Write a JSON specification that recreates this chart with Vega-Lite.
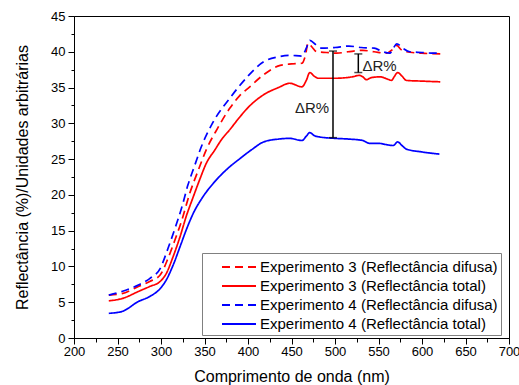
{
  "$schema": "https://vega.github.io/schema/vega-lite/v6.json",
  "width": 435,
  "height": 322,
  "autosize": {"type": "none"},
  "padding": {"left": 74, "top": 16, "right": 10, "bottom": 47},
  "config": {
    "font": "Liberation Sans",
    "view": {"stroke": "black", "strokeWidth": 1},
    "axis": {
      "grid": false,
      "domainColor": "black",
      "tickColor": "black",
      "labelColor": "black",
      "titleColor": "black",
      "labelFontSize": 13,
      "titleFontSize": 16,
      "titleFontWeight": "normal",
      "labelFont": "Liberation Sans",
      "titleFont": "Liberation Sans"
    }
  },
  "datasets": {
    "curves": [
      {"serie": "Experimento 3 (Reflectância difusa)", "nm": 240, "r": 6.0},
      {"serie": "Experimento 3 (Reflectância difusa)", "nm": 255, "r": 6.2},
      {"serie": "Experimento 3 (Reflectância difusa)", "nm": 274, "r": 7.2},
      {"serie": "Experimento 3 (Reflectância difusa)", "nm": 287, "r": 7.9},
      {"serie": "Experimento 3 (Reflectância difusa)", "nm": 299, "r": 8.8},
      {"serie": "Experimento 3 (Reflectância difusa)", "nm": 308, "r": 11.1},
      {"serie": "Experimento 3 (Reflectância difusa)", "nm": 316, "r": 13.7},
      {"serie": "Experimento 3 (Reflectância difusa)", "nm": 324, "r": 16.5},
      {"serie": "Experimento 3 (Reflectância difusa)", "nm": 333, "r": 20.2},
      {"serie": "Experimento 3 (Reflectância difusa)", "nm": 343, "r": 23.5},
      {"serie": "Experimento 3 (Reflectância difusa)", "nm": 352, "r": 26.3},
      {"serie": "Experimento 3 (Reflectância difusa)", "nm": 365, "r": 29.3},
      {"serie": "Experimento 3 (Reflectância difusa)", "nm": 379, "r": 32.1},
      {"serie": "Experimento 3 (Reflectância difusa)", "nm": 390, "r": 33.8},
      {"serie": "Experimento 3 (Reflectância difusa)", "nm": 402, "r": 35.1},
      {"serie": "Experimento 3 (Reflectância difusa)", "nm": 418, "r": 36.8},
      {"serie": "Experimento 3 (Reflectância difusa)", "nm": 437, "r": 38.1},
      {"serie": "Experimento 3 (Reflectância difusa)", "nm": 450, "r": 38.3},
      {"serie": "Experimento 3 (Reflectância difusa)", "nm": 462, "r": 38.4},
      {"serie": "Experimento 3 (Reflectância difusa)", "nm": 466, "r": 39.5},
      {"serie": "Experimento 3 (Reflectância difusa)", "nm": 469, "r": 41.2},
      {"serie": "Experimento 3 (Reflectância difusa)", "nm": 474, "r": 40.6},
      {"serie": "Experimento 3 (Reflectância difusa)", "nm": 479, "r": 40.0},
      {"serie": "Experimento 3 (Reflectância difusa)", "nm": 490, "r": 39.9},
      {"serie": "Experimento 3 (Reflectância difusa)", "nm": 502, "r": 39.8},
      {"serie": "Experimento 3 (Reflectância difusa)", "nm": 515, "r": 40.0},
      {"serie": "Experimento 3 (Reflectância difusa)", "nm": 532, "r": 40.2},
      {"serie": "Experimento 3 (Reflectância difusa)", "nm": 545, "r": 40.0},
      {"serie": "Experimento 3 (Reflectância difusa)", "nm": 559, "r": 39.8},
      {"serie": "Experimento 3 (Reflectância difusa)", "nm": 566, "r": 40.3},
      {"serie": "Experimento 3 (Reflectância difusa)", "nm": 571, "r": 40.9},
      {"serie": "Experimento 3 (Reflectância difusa)", "nm": 576, "r": 40.3},
      {"serie": "Experimento 3 (Reflectância difusa)", "nm": 582, "r": 40.0},
      {"serie": "Experimento 3 (Reflectância difusa)", "nm": 600, "r": 39.8},
      {"serie": "Experimento 3 (Reflectância difusa)", "nm": 621, "r": 39.7},

      {"serie": "Experimento 3 (Reflectância total)", "nm": 240, "r": 5.2},
      {"serie": "Experimento 3 (Reflectância total)", "nm": 255, "r": 5.5},
      {"serie": "Experimento 3 (Reflectância total)", "nm": 274, "r": 6.5},
      {"serie": "Experimento 3 (Reflectância total)", "nm": 287, "r": 7.2},
      {"serie": "Experimento 3 (Reflectância total)", "nm": 299, "r": 7.9},
      {"serie": "Experimento 3 (Reflectância total)", "nm": 306, "r": 9.0},
      {"serie": "Experimento 3 (Reflectância total)", "nm": 314, "r": 11.4},
      {"serie": "Experimento 3 (Reflectância total)", "nm": 322, "r": 14.2},
      {"serie": "Experimento 3 (Reflectância total)", "nm": 329, "r": 17.0},
      {"serie": "Experimento 3 (Reflectância total)", "nm": 337, "r": 19.7},
      {"serie": "Experimento 3 (Reflectância total)", "nm": 345, "r": 22.3},
      {"serie": "Experimento 3 (Reflectância total)", "nm": 352, "r": 24.4},
      {"serie": "Experimento 3 (Reflectância total)", "nm": 362, "r": 26.3},
      {"serie": "Experimento 3 (Reflectância total)", "nm": 370, "r": 27.8},
      {"serie": "Experimento 3 (Reflectância total)", "nm": 379, "r": 29.1},
      {"serie": "Experimento 3 (Reflectância total)", "nm": 390, "r": 30.8},
      {"serie": "Experimento 3 (Reflectância total)", "nm": 400, "r": 32.2},
      {"serie": "Experimento 3 (Reflectância total)", "nm": 418, "r": 34.0},
      {"serie": "Experimento 3 (Reflectância total)", "nm": 435, "r": 35.0},
      {"serie": "Experimento 3 (Reflectância total)", "nm": 448, "r": 35.6},
      {"serie": "Experimento 3 (Reflectância total)", "nm": 462, "r": 35.1},
      {"serie": "Experimento 3 (Reflectância total)", "nm": 467, "r": 36.0},
      {"serie": "Experimento 3 (Reflectância total)", "nm": 471, "r": 37.1},
      {"serie": "Experimento 3 (Reflectância total)", "nm": 476, "r": 36.6},
      {"serie": "Experimento 3 (Reflectância total)", "nm": 481, "r": 36.3},
      {"serie": "Experimento 3 (Reflectância total)", "nm": 500, "r": 36.3},
      {"serie": "Experimento 3 (Reflectância total)", "nm": 520, "r": 36.5},
      {"serie": "Experimento 3 (Reflectância total)", "nm": 528, "r": 36.7},
      {"serie": "Experimento 3 (Reflectância total)", "nm": 532, "r": 36.5},
      {"serie": "Experimento 3 (Reflectância total)", "nm": 536, "r": 36.1},
      {"serie": "Experimento 3 (Reflectância total)", "nm": 542, "r": 36.4},
      {"serie": "Experimento 3 (Reflectância total)", "nm": 552, "r": 36.5},
      {"serie": "Experimento 3 (Reflectância total)", "nm": 560, "r": 36.2},
      {"serie": "Experimento 3 (Reflectância total)", "nm": 565, "r": 36.0},
      {"serie": "Experimento 3 (Reflectância total)", "nm": 568, "r": 36.5},
      {"serie": "Experimento 3 (Reflectância total)", "nm": 572, "r": 37.1},
      {"serie": "Experimento 3 (Reflectância total)", "nm": 577, "r": 36.6},
      {"serie": "Experimento 3 (Reflectância total)", "nm": 582, "r": 36.0},
      {"serie": "Experimento 3 (Reflectância total)", "nm": 600, "r": 35.9},
      {"serie": "Experimento 3 (Reflectância total)", "nm": 621, "r": 35.8},

      {"serie": "Experimento 4 (Reflectância difusa)", "nm": 240, "r": 6.0},
      {"serie": "Experimento 4 (Reflectância difusa)", "nm": 255, "r": 6.5},
      {"serie": "Experimento 4 (Reflectância difusa)", "nm": 274, "r": 7.4},
      {"serie": "Experimento 4 (Reflectância difusa)", "nm": 287, "r": 8.3},
      {"serie": "Experimento 4 (Reflectância difusa)", "nm": 299, "r": 9.7},
      {"serie": "Experimento 4 (Reflectância difusa)", "nm": 308, "r": 12.5},
      {"serie": "Experimento 4 (Reflectância difusa)", "nm": 316, "r": 15.3},
      {"serie": "Experimento 4 (Reflectância difusa)", "nm": 324, "r": 18.3},
      {"serie": "Experimento 4 (Reflectância difusa)", "nm": 331, "r": 21.4},
      {"serie": "Experimento 4 (Reflectância difusa)", "nm": 339, "r": 24.2},
      {"serie": "Experimento 4 (Reflectância difusa)", "nm": 345, "r": 26.3},
      {"serie": "Experimento 4 (Reflectância difusa)", "nm": 360, "r": 30.2},
      {"serie": "Experimento 4 (Reflectância difusa)", "nm": 379, "r": 33.5},
      {"serie": "Experimento 4 (Reflectância difusa)", "nm": 400, "r": 36.6},
      {"serie": "Experimento 4 (Reflectância difusa)", "nm": 418, "r": 38.6},
      {"serie": "Experimento 4 (Reflectância difusa)", "nm": 435, "r": 39.3},
      {"serie": "Experimento 4 (Reflectância difusa)", "nm": 448, "r": 39.5},
      {"serie": "Experimento 4 (Reflectância difusa)", "nm": 462, "r": 39.4},
      {"serie": "Experimento 4 (Reflectância difusa)", "nm": 467, "r": 40.5},
      {"serie": "Experimento 4 (Reflectância difusa)", "nm": 471, "r": 41.6},
      {"serie": "Experimento 4 (Reflectância difusa)", "nm": 478, "r": 41.0},
      {"serie": "Experimento 4 (Reflectância difusa)", "nm": 485, "r": 40.5},
      {"serie": "Experimento 4 (Reflectância difusa)", "nm": 500, "r": 40.6},
      {"serie": "Experimento 4 (Reflectância difusa)", "nm": 516, "r": 40.8},
      {"serie": "Experimento 4 (Reflectância difusa)", "nm": 530, "r": 40.6},
      {"serie": "Experimento 4 (Reflectância difusa)", "nm": 545, "r": 40.5},
      {"serie": "Experimento 4 (Reflectância difusa)", "nm": 555, "r": 40.0},
      {"serie": "Experimento 4 (Reflectância difusa)", "nm": 563, "r": 39.8},
      {"serie": "Experimento 4 (Reflectância difusa)", "nm": 567, "r": 40.5},
      {"serie": "Experimento 4 (Reflectância difusa)", "nm": 571, "r": 41.1},
      {"serie": "Experimento 4 (Reflectância difusa)", "nm": 578, "r": 40.5},
      {"serie": "Experimento 4 (Reflectância difusa)", "nm": 586, "r": 40.0},
      {"serie": "Experimento 4 (Reflectância difusa)", "nm": 600, "r": 39.9},
      {"serie": "Experimento 4 (Reflectância difusa)", "nm": 613, "r": 39.8},
      {"serie": "Experimento 4 (Reflectância difusa)", "nm": 620, "r": 39.8},

      {"serie": "Experimento 4 (Reflectância total)", "nm": 240, "r": 3.45},
      {"serie": "Experimento 4 (Reflectância total)", "nm": 255, "r": 3.7},
      {"serie": "Experimento 4 (Reflectância total)", "nm": 274, "r": 5.1},
      {"serie": "Experimento 4 (Reflectância total)", "nm": 287, "r": 5.8},
      {"serie": "Experimento 4 (Reflectância total)", "nm": 299, "r": 6.9},
      {"serie": "Experimento 4 (Reflectância total)", "nm": 306, "r": 8.1},
      {"serie": "Experimento 4 (Reflectância total)", "nm": 314, "r": 10.2},
      {"serie": "Experimento 4 (Reflectância total)", "nm": 322, "r": 12.8},
      {"serie": "Experimento 4 (Reflectância total)", "nm": 329, "r": 15.1},
      {"serie": "Experimento 4 (Reflectância total)", "nm": 337, "r": 17.4},
      {"serie": "Experimento 4 (Reflectância total)", "nm": 348, "r": 19.7},
      {"serie": "Experimento 4 (Reflectância total)", "nm": 360, "r": 21.6},
      {"serie": "Experimento 4 (Reflectância total)", "nm": 375, "r": 23.5},
      {"serie": "Experimento 4 (Reflectância total)", "nm": 391, "r": 25.1},
      {"serie": "Experimento 4 (Reflectância total)", "nm": 404, "r": 26.3},
      {"serie": "Experimento 4 (Reflectância total)", "nm": 418, "r": 27.4},
      {"serie": "Experimento 4 (Reflectância total)", "nm": 435, "r": 27.8},
      {"serie": "Experimento 4 (Reflectância total)", "nm": 448, "r": 27.9},
      {"serie": "Experimento 4 (Reflectância total)", "nm": 462, "r": 27.6},
      {"serie": "Experimento 4 (Reflectância total)", "nm": 467, "r": 28.2},
      {"serie": "Experimento 4 (Reflectância total)", "nm": 471, "r": 28.7},
      {"serie": "Experimento 4 (Reflectância total)", "nm": 476, "r": 28.3},
      {"serie": "Experimento 4 (Reflectância total)", "nm": 482, "r": 28.1},
      {"serie": "Experimento 4 (Reflectância total)", "nm": 500, "r": 27.9},
      {"serie": "Experimento 4 (Reflectância total)", "nm": 516, "r": 27.8},
      {"serie": "Experimento 4 (Reflectância total)", "nm": 532, "r": 27.6},
      {"serie": "Experimento 4 (Reflectância total)", "nm": 540, "r": 27.2},
      {"serie": "Experimento 4 (Reflectância total)", "nm": 550, "r": 27.2},
      {"serie": "Experimento 4 (Reflectância total)", "nm": 560, "r": 27.0},
      {"serie": "Experimento 4 (Reflectância total)", "nm": 567, "r": 26.9},
      {"serie": "Experimento 4 (Reflectância total)", "nm": 572, "r": 27.4},
      {"serie": "Experimento 4 (Reflectância total)", "nm": 577, "r": 26.9},
      {"serie": "Experimento 4 (Reflectância total)", "nm": 582, "r": 26.4},
      {"serie": "Experimento 4 (Reflectância total)", "nm": 600, "r": 26.0},
      {"serie": "Experimento 4 (Reflectância total)", "nm": 620, "r": 25.7}
    ],
    "bars": [
      {"nm": 497.7, "r": 28.0, "r2": 40.1},
      {"nm": 526.8, "r": 37.1, "r2": 39.7}
    ],
    "labels": [
      {"nm": 454, "r": 32.2, "txt": "ΔR%"},
      {"nm": 531.5, "r": 38.0, "txt": "ΔR%"}
    ]
  },
  "encoding": {
    "x": {
      "field": "nm", "type": "quantitative",
      "scale": {"domain": [200, 700], "nice": false},
      "axis": {
        "title": "Comprimento de onda (nm)",
        "values": [200, 225, 250, 275, 300, 325, 350, 375, 400, 425, 450, 475, 500, 525, 550, 575, 600, 625, 650, 675, 700],
        "labelExpr": "datum.value % 50 === 0 ? datum.label : ''",
        "tickSize": {"condition": {"test": "datum.value % 50 === 0", "value": 6}, "value": 4},
        "labelPadding": 1,
        "titlePadding": 10,
        "labelFlush": false,
        "labelOverlap": false
      }
    },
    "y": {
      "field": "r", "type": "quantitative",
      "scale": {"domain": [0, 45], "nice": false, "zero": false},
      "axis": {
        "title": "Reflectância (%)/Unidades arbitrárias",
        "values": [0, 2.5, 5, 7.5, 10, 12.5, 15, 17.5, 20, 22.5, 25, 27.5, 30, 32.5, 35, 37.5, 40, 42.5, 45],
        "labelExpr": "datum.value % 5 === 0 ? datum.label : ''",
        "tickSize": {"condition": {"test": "datum.value % 5 === 0", "value": 6}, "value": 3},
        "labelPadding": 3,
        "titlePadding": 20,
        "labelFlush": false,
        "labelOverlap": false
      }
    }
  },
  "layer": [
    {
      "data": {"name": "curves"},
      "mark": {"type": "line", "strokeWidth": 1.7, "interpolate": "monotone"},
      "encoding": {
        "color": {
          "field": "serie", "type": "nominal",
          "scale": {
            "domain": ["Experimento 3 (Reflectância difusa)", "Experimento 3 (Reflectância total)", "Experimento 4 (Reflectância difusa)", "Experimento 4 (Reflectância total)"],
            "range": ["#ff0000", "#ff0000", "#0000ff", "#0000ff"]
          },
          "legend": {
            "title": null,
            "orient": "none",
            "legendX": 128,
            "legendY": 237,
            "symbolType": "M-1.7,0H1.7",
            "symbolSize": 400,
            "symbolStrokeWidth": 2,
            "labelFontSize": 15,
            "labelFont": "Liberation Sans",
            "labelColor": "black",
            "labelLimit": 400,
            "labelOffset": 10,
            "rowPadding": -1.6,
            "padding": 3,
            "symbolOffset": 23,
            "strokeColor": "#808080",
            "fillColor": "white"
          }
        },
        "strokeDash": {
          "field": "serie", "type": "nominal",
          "scale": {
            "domain": ["Experimento 3 (Reflectância difusa)", "Experimento 3 (Reflectância total)", "Experimento 4 (Reflectância difusa)", "Experimento 4 (Reflectância total)"],
            "range": [[8, 5], [1, 0], [8, 5], [1, 0]]
          },
          "legend": null
        }
      }
    },
    {
      "data": {"name": "bars"},
      "mark": {"type": "rule", "color": "black", "strokeWidth": 1.5},
      "encoding": {
        "y2": {"field": "r2"}
      }
    },
    {
      "data": {"name": "bars"},
      "transform": [{"fold": ["r", "r2"], "as": ["end", "r"]}],
      "mark": {"type": "tick", "orient": "horizontal", "color": "black", "size": 8, "thickness": 1.5}
    },
    {
      "data": {"name": "labels"},
      "mark": {"type": "text", "fontSize": 15, "align": "left", "baseline": "middle", "color": "#222222", "font": "Liberation Sans"},
      "encoding": {
        "text": {"field": "txt"}
      }
    }
  ]
}
